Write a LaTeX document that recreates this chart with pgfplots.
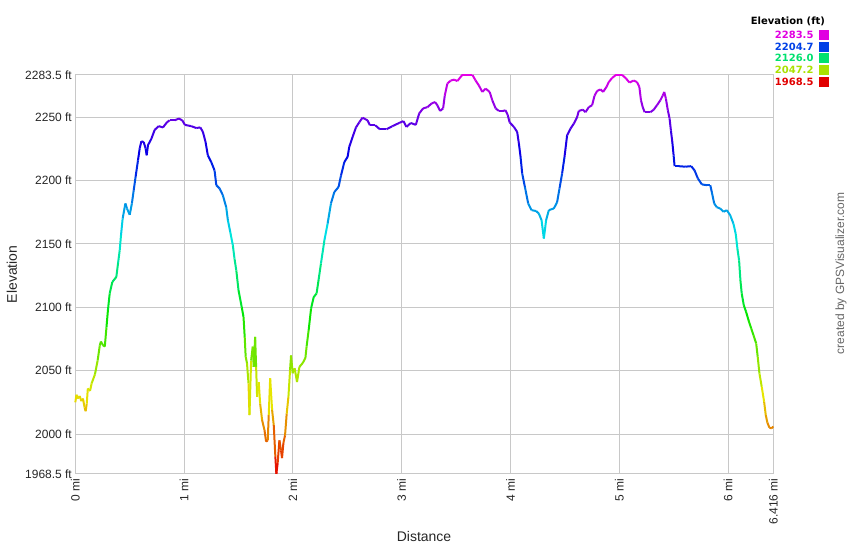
\documentclass[border=0pt]{standalone}
\usepackage{pgfplots}
\pgfplotsset{compat=1.18}
\usepackage{fontspec}
\setmainfont{Liberation Sans}
\newfontfamily\legfont{DejaVu Sans}
\definecolor{gridgray}{RGB}{200,200,200}
\definecolor{cMag}{RGB}{225,0,225}
\definecolor{cBlu}{RGB}{0,64,230}
\definecolor{cGrn}{RGB}{0,225,110}
\definecolor{cYel}{RGB}{170,225,0}
\definecolor{cRed}{RGB}{225,0,0}
\begin{document}
\begin{tikzpicture}[x=1pt,y=1pt]
\path (0,0) rectangle (850,550);
\begin{axis}[
  at={(75.5pt,75pt)}, anchor=south west,
  scale only axis, width=699.5pt, height=400pt,
  xmin=0, xmax=6.416, ymin=1968.5, ymax=2283.5,
  xtick={0,1,2,3,4,5,6,6.416},
  xticklabels={0 mi,1 mi,2 mi,3 mi,4 mi,5 mi,6 mi,6.416 mi},
  ytick={1968.5,2000,2050,2100,2150,2200,2250,2283.5},
  yticklabels={1968.5 ft,2000 ft,2050 ft,2100 ft,2150 ft,2200 ft,2250 ft,2283.5 ft},
  grid=major, grid style={gridgray, line width=1pt},
  axis line style={gridgray, line width=1pt},
  major tick length=0pt,
  tick label style={font=\fontsize{12}{14}\selectfont, text=black!85},
  xticklabel style={rotate=90, anchor=east, xshift=-1pt},
  colormap={gps}{rgb255=(230,0,0) rgb255=(230,230,0) rgb255=(0,230,0) rgb255=(0,230,230) rgb255=(0,0,230) rgb255=(230,0,230)},
  point meta min=1968.5, point meta max=2283.5,
  clip=false,
]
\addplot[mesh, point meta=y, line width=2pt, line join=round] coordinates {
(0.000,2025) (0.010,2031) (0.025,2028) (0.040,2030) (0.055,2026) (0.070,2028)
(0.085,2021) (0.095,2018) (0.105,2024) (0.115,2036) (0.135,2034) (0.150,2040)
(0.180,2047) (0.205,2058) (0.225,2070) (0.235,2073) (0.255,2070) (0.271,2069)
(0.286,2084) (0.300,2098) (0.316,2111) (0.340,2120) (0.377,2124) (0.393,2135)
(0.408,2145) (0.420,2157) (0.435,2170) (0.460,2182) (0.475,2178) (0.500,2173)
(0.520,2182) (0.536,2192) (0.554,2203) (0.576,2216) (0.592,2225.5) (0.607,2231)
(0.628,2230.5) (0.646,2225.5) (0.656,2220) (0.668,2228) (0.699,2233) (0.729,2240)
(0.766,2243) (0.806,2242) (0.842,2246) (0.867,2247.6) (0.913,2247.6) (0.952,2249)
(0.983,2247.6) (1.007,2244) (1.066,2243) (1.112,2241.5) (1.149,2242) (1.173,2238.4)
(1.197,2230.5) (1.218,2220) (1.249,2214.7) (1.280,2208) (1.296,2196.4) (1.326,2193.8)
(1.356,2188.5) (1.387,2179) (1.402,2169) (1.424,2159.5) (1.448,2149) (1.463,2138.6)
(1.480,2129) (1.500,2113.6) (1.530,2100) (1.546,2092.5) (1.557,2076.7) (1.566,2061)
(1.578,2056) (1.592,2040) (1.601,2015) (1.616,2058) (1.631,2069) (1.640,2053)
(1.653,2076.7) (1.662,2053) (1.671,2029.4) (1.686,2041) (1.699,2024) (1.717,2011)
(1.739,2003) (1.754,1994) (1.769,1995) (1.778,2015) (1.791,2044) (1.809,2019)
(1.824,2007) (1.839,1982) (1.848,1968.5) (1.860,1977) (1.876,1995) (1.891,1987)
(1.900,1981) (1.913,1993) (1.928,1999) (1.943,2016) (1.959,2029.4) (1.974,2050.5)
(1.983,2062) (1.998,2048) (2.016,2052) (2.038,2041) (2.060,2053) (2.090,2056)
(2.115,2060) (2.126,2069) (2.145,2082) (2.167,2099) (2.191,2108) (2.218,2111)
(2.236,2121.5) (2.258,2134.6) (2.290,2153) (2.319,2166) (2.350,2182) (2.381,2191)
(2.420,2195) (2.442,2204) (2.473,2214.7) (2.503,2218.7) (2.518,2226.6) (2.549,2234.5)
(2.580,2242) (2.610,2246) (2.640,2249.7) (2.686,2247.6) (2.708,2243.7) (2.757,2243.7)
(2.800,2240.5) (2.860,2240.5) (2.915,2243) (2.977,2245.5) (3.016,2247) (3.044,2242.4)
(3.084,2245.5) (3.130,2244) (3.161,2253) (3.197,2257) (3.237,2258) (3.277,2261)
(3.307,2262) (3.328,2259.5) (3.353,2255) (3.381,2257) (3.396,2267) (3.420,2276.6)
(3.451,2279) (3.482,2279.7) (3.512,2278.6) (3.558,2283.5) (3.650,2283.5) (3.680,2279)
(3.711,2275) (3.741,2270) (3.772,2272.6) (3.809,2270) (3.833,2263.4) (3.864,2257)
(3.894,2255) (3.931,2255) (3.955,2255.5) (3.976,2251.6) (3.992,2246) (4.032,2242.4)
(4.062,2238.4) (4.078,2229) (4.093,2218.7) (4.108,2205.6) (4.133,2195) (4.163,2182)
(4.194,2176.7) (4.236,2176) (4.261,2174) (4.286,2168.8) (4.307,2154.3) (4.328,2168.8)
(4.353,2176.7) (4.399,2178) (4.429,2183) (4.451,2193.8) (4.475,2205.6) (4.497,2218.7)
(4.521,2235.8) (4.552,2241) (4.583,2245) (4.613,2250.2) (4.628,2255) (4.665,2256)
(4.690,2254) (4.720,2258) (4.751,2259.5) (4.773,2267) (4.797,2270.8) (4.828,2272)
(4.852,2270) (4.883,2274) (4.904,2277.8) (4.934,2281) (4.971,2283.5) (5.026,2283.5)
(5.063,2280.6) (5.094,2277.4) (5.133,2279) (5.163,2277.8) (5.185,2274) (5.200,2263.4)
(5.216,2258) (5.234,2254) (5.286,2254) (5.317,2256) (5.347,2259.5) (5.378,2263.4)
(5.399,2267) (5.414,2270) (5.429,2264.7) (5.447,2255.5) (5.463,2249) (5.475,2239.7)
(5.488,2230.5) (5.500,2220) (5.509,2211.4) (5.546,2211.4) (5.607,2211) (5.662,2211.4)
(5.693,2208) (5.723,2201.7) (5.760,2197) (5.806,2196.4) (5.837,2196.4) (5.851,2191)
(5.873,2182) (5.897,2179) (5.928,2178) (5.959,2175.4) (5.989,2176.7) (6.020,2172.7)
(6.050,2166) (6.071,2158) (6.087,2146) (6.102,2137) (6.114,2121.5) (6.126,2111)
(6.145,2101.7) (6.166,2096.5) (6.188,2090) (6.213,2083.4) (6.234,2078) (6.259,2071.5)
(6.273,2061) (6.289,2047.8) (6.310,2037.3) (6.332,2025.5) (6.347,2015) (6.362,2009)
(6.381,2005) (6.402,2004.5) (6.416,2006)
};
\end{axis}
% axis titles
\node[font=\fontsize{14}{16}\selectfont, text=black!85] at (425,12) {Distance};
\node[font=\fontsize{14}{16}\selectfont, text=black!85, rotate=90] at (12,275) {Elevation};
% credit
\node[font=\fontsize{12}{14}\selectfont, text=black!60, rotate=90] at (843,276) {created by GPSVisualizer.com};
% colour key
\node[font=\legfont\bfseries\fontsize{10}{12}\selectfont, anchor=east, inner sep=0pt] at (827,528.3) {Elevation (ft)};
\foreach \yy/\lab/\col in {515/2283.5/cMag, 503.3/2204.7/cBlu, 491.7/2126.0/cGrn, 480/2047.2/cYel, 468.3/1968.5/cRed}{
  \node[font=\legfont\bfseries\fontsize{10}{12}\selectfont, anchor=east, text=\col, inner sep=0pt] at (815.5,\yy) {\lab};
  \fill[\col] (821,\yy-5) rectangle (830.7,\yy+5);
}
\end{tikzpicture}
\end{document}
